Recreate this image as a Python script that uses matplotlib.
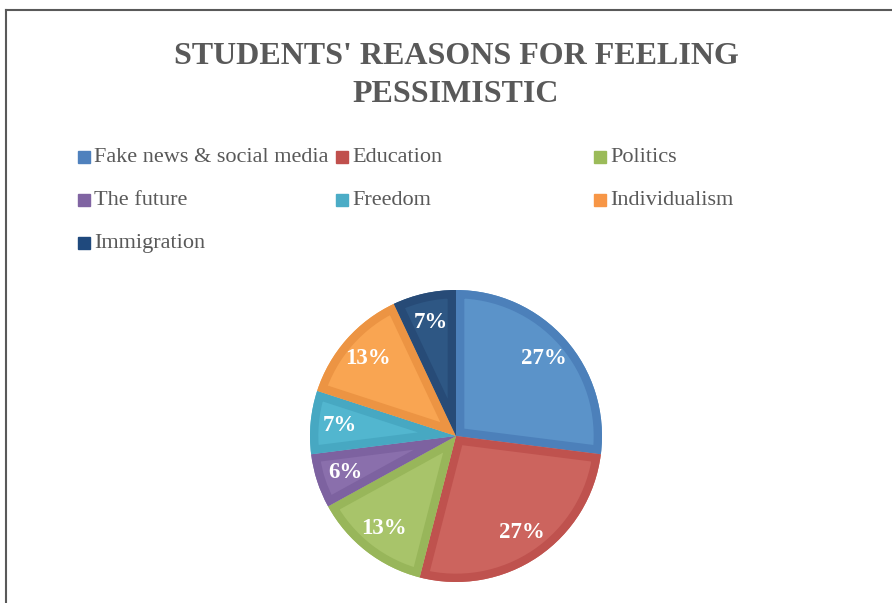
import matplotlib.pyplot as plt
from matplotlib.patches import Rectangle, Wedge
from matplotlib.lines import Line2D

reasons = ["Fake news & social media", "Education", "Politics", "The future",
           "Freedom", "Individualism", "Immigration"]
shares = [27, 27, 13, 6, 7, 13, 7]

fill_colors = ["#5B93C9", "#CC645E", "#A8C46A", "#8A6FAC", "#52B6CF", "#F9A552", "#2E5784"]
edge_colors = ["#4C80BA", "#BF524E", "#98B65A", "#7D62A0", "#47A8C2", "#EC9443", "#274B77"]
legend_colors = ["#4F81BD", "#C0504D", "#9BBB59", "#8064A2", "#4BACC6", "#F79646", "#1F497D"]

W, H = 892, 603
plt.rcParams["font.family"] = "Liberation Serif"

fig = plt.figure(figsize=(W / 100, H / 100), dpi=100)

# chart frame (left and top edges only visible)
fig.add_artist(Line2D([6 / W, 6 / W], [0, 1 - 10 / H], color="#595959", lw=1.5))
fig.add_artist(Line2D([6 / W, 1], [1 - 10 / H, 1 - 10 / H], color="#595959", lw=1.5))

fig.text(456 / W, 1 - 56 / H, "STUDENTS' REASONS FOR FEELING", ha="center", va="center",
         fontsize=23, fontweight="bold", color="#595959")
fig.text(456 / W, 1 - 94 / H, "PESSIMISTIC", ha="center", va="center",
         fontsize=23, fontweight="bold", color="#595959")

# legend laid out row by row in three equal columns
for i, (name, c) in enumerate(zip(reasons, legend_colors)):
    row, col = divmod(i, 3)
    x0 = 78 + col * 258
    y0 = 157 + row * 43
    fig.add_artist(Rectangle((x0 / W, 1 - (y0 + 6) / H), 12 / W, 12 / H, color=c))
    fig.text((x0 + 16) / W, 1 - (y0 + 1) / H, name, ha="left", va="center",
             fontsize=16, color="#595959")

r = 146
cx, cy = 456, 436
ax = fig.add_axes([(cx - r) / W, (H - cy - r) / H, 2 * r / W, 2 * r / H])
wedges, texts, autotexts = ax.pie(
    shares, colors=fill_colors, startangle=90, counterclock=False,
    autopct="%1.0f%%", pctdistance=0.8,
    textprops=dict(color="white", fontsize=16.5, fontweight="bold"))

# darker inner rim on each slice, kept inside the slice outline
for w, ec in zip(wedges, edge_colors):
    rim = Wedge(w.center, w.r, w.theta1, w.theta2, fill=False, edgecolor=ec,
                linewidth=12, joinstyle="round", zorder=w.get_zorder() + 0.1)
    ax.add_patch(rim)
    rim.set_clip_path(w)
ax.set_xlim(-1.0, 1.0)
ax.set_ylim(-1.0, 1.0)

fig.savefig("out.png", dpi=100)
